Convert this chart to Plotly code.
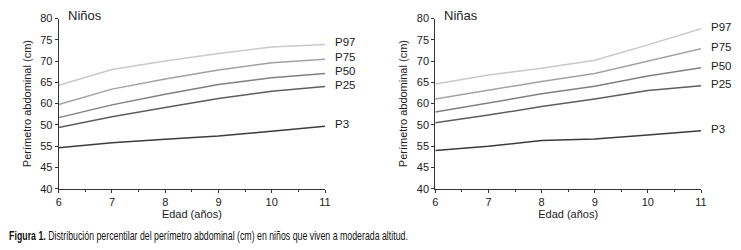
import plotly.graph_objects as go

edad = [6, 7, 8, 9, 10, 11]
percentiles = ["P97", "P75", "P50", "P25", "P3"]

ninos_p97 = [64.3, 68.0, 70.0, 71.8, 73.3, 73.9]
ninos_p75 = [59.8, 63.4, 65.8, 67.9, 69.6, 70.4]
ninos_p50 = [56.7, 59.7, 62.2, 64.5, 66.1, 67.1]
ninos_p25 = [54.4, 56.9, 59.1, 61.2, 62.9, 64.0]
ninos_p3 = [49.6, 50.8, 51.6, 52.4, 53.5, 54.7]

ninas_p97 = [64.6, 66.7, 68.3, 70.2, 73.8, 77.6]
ninas_p75 = [61.1, 63.2, 65.2, 67.1, 70.0, 72.9]
ninas_p50 = [58.0, 60.1, 62.3, 64.1, 66.5, 68.4]
ninas_p25 = [55.5, 57.3, 59.3, 61.1, 63.1, 64.2]
ninas_p3 = [49.0, 50.0, 51.3, 51.7, 52.6, 53.6]

y_tickvals = [40, 45, 50, 55, 60, 65, 70, 75, 80]
y_ticktext = ["40", "45", "55", "50", "60", "65", "70", "75", "80"]
x_tickvals = [6, 7, 8, 9, 10, 11]

colors = {"P97": "#c9c9c9", "P75": "#a2a2a2", "P50": "#808080", "P25": "#5e5e5e", "P3": "#3c3c3c"}

ninos = dict(zip(percentiles, [ninos_p97, ninos_p75, ninos_p50, ninos_p25, ninos_p3]))
ninas = dict(zip(percentiles, [ninas_p97, ninas_p75, ninas_p50, ninas_p25, ninas_p3]))

FONT = "Arial"
TXT = "#222222"

fig = go.Figure()
annotations = []
for data, xa, ya, xref, yref in [(ninos, "x", "y", "x", "y"), (ninas, "x2", "y2", "x2", "y2")]:
    for p in percentiles:
        fig.add_trace(go.Scatter(x=edad, y=data[p], mode="lines", xaxis=xa, yaxis=ya,
                                 line=dict(color=colors[p], width=1.5), showlegend=False,
                                 hoverinfo="skip"))
        annotations.append(dict(x=edad[-1], y=data[p][-1], xref=xref, yref=yref, text=p,
                                showarrow=False, xanchor="left", yanchor="middle", xshift=8, yshift=2,
                                font=dict(family=FONT, size=11.5, color=TXT)))

axis_common = dict(showline=True, linecolor="#333333", linewidth=1, ticks="outside",
                   tickcolor="#333333", ticklen=3, showgrid=False, zeroline=False, automargin=False,
                   tickfont=dict(family=FONT, size=11, color=TXT))

xdef = dict(axis_common, range=[6, 11], tickvals=x_tickvals,
            minor=dict(dtick=0.5, ticks="outside", ticklen=2, tickcolor="#333333"),
            title=dict(text="Edad (años)", font=dict(family=FONT, size=11, color=TXT), standoff=2))
ydef = dict(axis_common, range=[40, 80], tickvals=y_tickvals, ticktext=y_ticktext,
            title=dict(text="Perímetro abdominal (cm)", font=dict(family=FONT, size=11, color=TXT), standoff=6))

ybot = 1 - 188.7 / 250
ytop = 1 - 18.5 / 250

fig.update_layout(
    width=741, height=250,
    margin=dict(l=0, r=0, t=0, b=0, autoexpand=False),
    paper_bgcolor="white", plot_bgcolor="white",
    hovermode=False,
    xaxis=dict(xdef, domain=[58.7 / 741, 325 / 741], anchor="y"),
    yaxis=dict(ydef, domain=[ybot, ytop], anchor="x"),
    xaxis2=dict(xdef, domain=[435.3 / 741, 701 / 741], anchor="y2"),
    yaxis2=dict(ydef, domain=[ybot, ytop], anchor="x2"),
)

annotations.append(dict(x=65.5 / 741, y=1 - 15 / 250, xref="paper", yref="paper", text="Niños",
                        showarrow=False, xanchor="left", yanchor="middle",
                        font=dict(family=FONT, size=13, color=TXT)))
annotations.append(dict(x=(370 + 72) / 741, y=1 - 15 / 250, xref="paper", yref="paper", text="Niñas",
                        showarrow=False, xanchor="left", yanchor="middle",
                        font=dict(family=FONT, size=13, color=TXT)))
annotations.append(dict(x=7 / 741, y=1 - 236 / 250, xref="paper", yref="paper",
                        text="<b>Figura 1.</b> Distribución percentilar del perímetro abdominal (cm) en niños que viven a moderada altitud.",
                        showarrow=False, xanchor="left", yanchor="middle",
                        font=dict(family=FONT, size=12.5, color="#111111")))
fig.update_layout(annotations=annotations)

post = """
document.body.style.margin = '0';
document.body.style.padding = '0';
var gd = document.getElementById('{plot_id}');
var texts = gd.querySelectorAll('text.annotation-text');
texts.forEach(function(t) {
  if (t.textContent.indexOf('Figura') === 0) {
    var bb = t.getBBox();
    var target = 399;
    var s = target / bb.width;
    if (s < 1) {
      t.setAttribute('transform', 'translate(' + (bb.x * (1 - s)) + ',0) scale(' + s + ',1)');
    }
  }
});
"""

fig.write_html("out.html", post_script=post, config={"displayModeBar": False, "staticPlot": True})
